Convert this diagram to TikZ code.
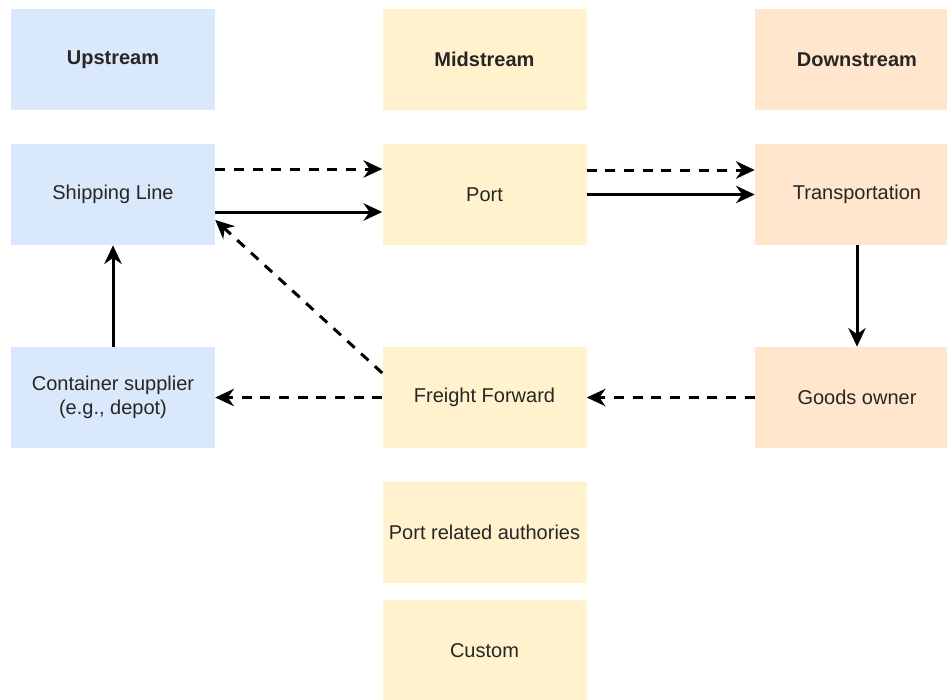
\documentclass[tikz,border=0pt]{standalone}
\usepackage{fontspec}
\setmainfont{Liberation Sans}
\usetikzlibrary{arrows.meta}
\definecolor{upfill}{HTML}{DAE8FC}
\definecolor{midfill}{HTML}{FFF2CC}
\definecolor{downfill}{HTML}{FFE6CC}
\definecolor{ink}{HTML}{262626}
\begin{document}
\begin{tikzpicture}[x=0.75pt,y=-0.75pt,
  box/.style={rectangle, minimum width=153pt, minimum height=75.75pt,
    inner sep=0pt, align=center, text=ink,
    font=\fontsize{15}{18}\selectfont},
  head/.style={box, font=\fontsize{15}{18}\selectfont\bfseries},
  up/.style={fill=upfill},
  mid/.style={fill=midfill},
  down/.style={fill=downfill},
  link/.style={line width=2.25pt, black,
    -{Stealth[length=14pt, width=13pt, inset=4.5pt]}},
  dlink/.style={link, dash pattern=on 7.5pt off 6.5pt}
]
% page frame: 947 x 700 px
\clip (0,0) rectangle (947,700);
\fill[white] (0,0) rectangle (947,700);

% column headers
\node[head, up]   (upstream)   at (113,59.5)   {Upstream};
\node[head, mid]  (midstream)  at (484.5,59.5) {Midstream};
\node[head, down] (downstream) at (857,59.5)   {Downstream};

% actors
\node[box, up]   (ship)      at (113,194.5)   {Shipping Line};
\node[box, mid]  (port)      at (484.5,194.5) {Port};
\node[box, down] (transport) at (857,194.5)   {Transportation};
\node[box, up]   (container) at (113,397.5)   {Container supplier\\(e.g., depot)};
\node[box, mid]  (freight)   at (484.5,397.5) {Freight Forward};
\node[box, down] (goods)     at (857,397.5)   {Goods owner};
\node[box, mid]  (authority) at (484.5,532.5) {Port related authories};
\node[box, mid]  (custom)    at (484.5,650.5) {Custom};

% flows
\draw[dlink] (ship.east |- 0,169) -- (port.west |- 0,169);
\draw[link]  (ship.east |- 0,212) -- (port.west |- 0,212);
\draw[dlink] (port.east |- 0,170) -- (transport.west |- 0,170);
\draw[link]  (port.east |- 0,194.5) -- (transport.west |- 0,194.5);
\draw[link]  (transport.south) -- (goods.north);
\draw[dlink] (goods.west) -- (freight.east);
\draw[dlink] (freight.west) -- (container.east);
\draw[dlink] (freight.west |- 0,373) -- (ship.east |- 0,220);
\draw[link]  (container.north) -- (ship.south);
\end{tikzpicture}
\end{document}
